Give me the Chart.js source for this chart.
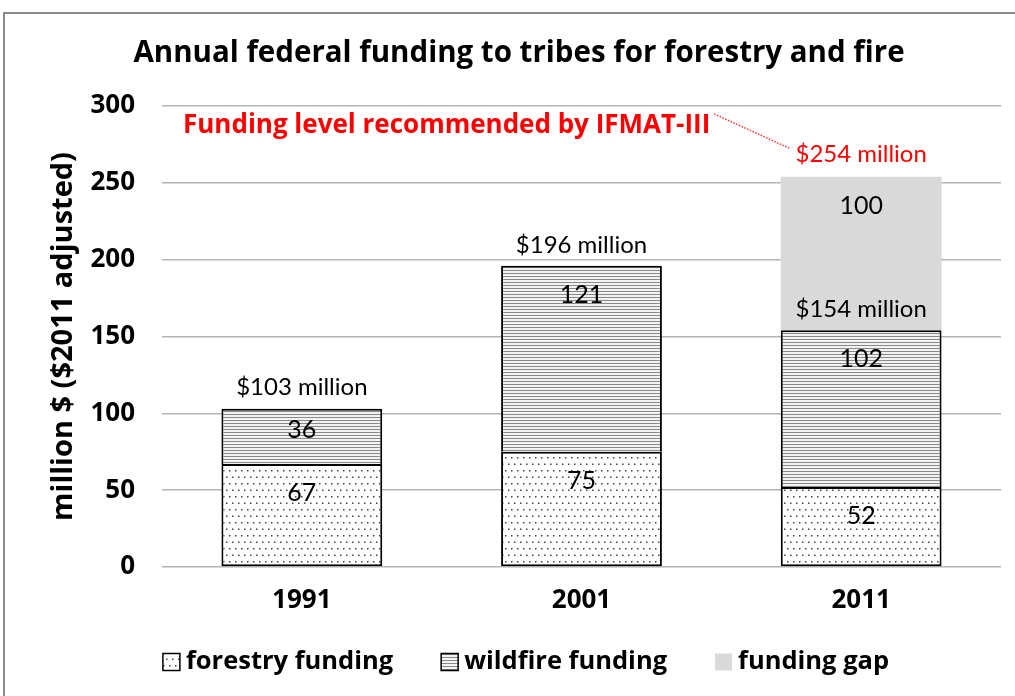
<!DOCTYPE html>
<html>
<head>
<meta charset="utf-8">
<script src="https://cdn.jsdelivr.net/npm/chart.js@4"></script>
<style>
  body { margin: 0; background: #fff; }
  canvas { display: block; }
</style>
</head>
<body>
<canvas id="fundingChart" width="1015" height="696"></canvas>
<script>
// data
const years = ["1991", "2001", "2011"];
const forestry = [67, 75, 52];
const wildfire = [36, 121, 102];
const fundingGap = [null, null, 100];
const seriesNames = ["forestry funding", "wildfire funding", "funding gap"];
const yTicks = [0, 50, 100, 150, 200, 250, 300];

const FONT = "Lato, 'Open Sans', sans-serif";
const BOLD = "'Open Sans', Lato, sans-serif";

// dotted fill for forestry
function dotPattern() {
  const c = document.createElement("canvas");
  c.width = 12; c.height = 13;
  const g = c.getContext("2d");
  g.fillStyle = "#fff";
  g.fillRect(0, 0, 12, 13);
  g.fillStyle = "#444";
  g.fillRect(1, 2, 1.5, 1.5);
  g.fillRect(7, 2, 1.5, 1.5);
  g.fillRect(4, 8.5, 1.5, 1.5);
  g.fillRect(10, 8.5, 1.5, 1.5);
  return g.createPattern(c, "repeat");
}

// horizontal stripes for wildfire
function stripePattern() {
  const c = document.createElement("canvas");
  c.width = 4; c.height = 3;
  const g = c.getContext("2d");
  g.fillStyle = "#f2f2f2";
  g.fillRect(0, 0, 4, 3);
  g.fillStyle = "#8a8a8a";
  g.fillRect(0, 0, 4, 1);
  return g.createPattern(c, "repeat");
}

const fills = [dotPattern(), stripePattern(), "#d9d9d9"];

const extras = {
  id: "extras",
  beforeDraw(chart) {
    const ctx = chart.ctx;
    ctx.save();
    ctx.fillStyle = "#fff";
    ctx.fillRect(0, 0, chart.width, chart.height);
    ctx.strokeStyle = "#8c8c8c";
    ctx.lineWidth = 2;
    ctx.strokeRect(4, 13, 1200, 900);
    // title
    ctx.fillStyle = "#000";
    ctx.font = "bold 29.5px " + BOLD;
    ctx.textAlign = "center";
    ctx.textBaseline = "middle";
    ctx.fillText("Annual federal funding to tribes for forestry and fire", 519, 54);
    ctx.restore();
  },
  afterDatasetsDraw(chart) {
    const ctx = chart.ctx;
    const area = chart.chartArea;
    ctx.save();
    ctx.textAlign = "center";
    ctx.textBaseline = "middle";

    // segment values
    chart.data.datasets.forEach((ds, i) => {
      const meta = chart.getDatasetMeta(i);
      meta.data.forEach((bar, j) => {
        const v = ds.data[j];
        if (v == null) return;
        const h = bar.base - bar.y;
        const y = bar.y + Math.min(29, h / 2 - 6);
        ctx.font = "25px " + FONT;
        ctx.fillStyle = "#000";
        ctx.fillText(String(v), bar.x, y);
      });
    });

    // totals above forestry + wildfire
    const wild = chart.getDatasetMeta(1);
    wild.data.forEach((bar, j) => {
      const total = forestry[j] + wildfire[j];
      ctx.font = "24px " + FONT;
      ctx.fillStyle = "#000";
      ctx.fillText("$" + total + " million", bar.x, bar.y - 21);
    });

    // recommended level
    const gapBar = chart.getDatasetMeta(2).data[2];
    const rec = forestry[2] + wildfire[2] + fundingGap[2];
    ctx.font = "24px " + FONT;
    ctx.fillStyle = "#ff0000";
    const recText = "$" + rec + " million";
    const recY = gapBar.y - 22;
    ctx.fillText(recText, gapBar.x, recY);
    const recW = ctx.measureText(recText).width;

    ctx.font = "bold 26px " + BOLD;
    ctx.textAlign = "left";
    const note = "Funding level recommended by IFMAT-III";
    const noteX = area.left + 21;
    const noteY = 126;
    ctx.fillText(note, noteX, noteY);
    const noteEnd = noteX + ctx.measureText(note).width;

    ctx.strokeStyle = "#ff3030";
    ctx.lineWidth = 1.5;
    ctx.setLineDash([1.5, 1.5]);
    ctx.beginPath();
    ctx.moveTo(noteEnd + 4, noteY - 12);
    ctx.lineTo(gapBar.x - recW / 2 - 5, recY - 6);
    ctx.stroke();
    ctx.setLineDash([]);
    ctx.restore();
  },
  afterDraw(chart) {
    // legend
    const ctx = chart.ctx;
    ctx.save();
    ctx.font = "bold 25.5px " + BOLD;
    ctx.textBaseline = "middle";
    ctx.textAlign = "left";
    const box = 17, gapBT = 6, gapItems = 48;
    const widths = seriesNames.map(n => box + gapBT + ctx.measureText(n).width);
    const total = widths.reduce((a, b) => a + b, 0) + gapItems * (widths.length - 1);
    let x = 526 - total / 2;
    const y = 662;
    seriesNames.forEach((n, i) => {
      ctx.fillStyle = fills[i];
      ctx.fillRect(x, y - box / 2, box, box);
      if (i < 2) {
        ctx.strokeStyle = "#000";
        ctx.lineWidth = 1.5;
        ctx.strokeRect(x, y - box / 2, box, box);
      }
      ctx.fillStyle = "#000";
      ctx.fillText(n, x + box + gapBT, y);
      x += widths[i] + gapItems;
    });
    ctx.restore();
  }
};

new Chart(document.getElementById("fundingChart"), {
  type: "bar",
  data: {
    labels: years,
    datasets: [
      { label: seriesNames[0], data: forestry, backgroundColor: fills[0], borderColor: "#000", borderWidth: 2, borderSkipped: false },
      { label: seriesNames[1], data: wildfire, backgroundColor: fills[1], borderColor: "#000", borderWidth: 2, borderSkipped: "bottom" },
      { label: seriesNames[2], data: fundingGap, backgroundColor: fills[2], borderWidth: 0 }
    ]
  },
  options: {
    responsive: false,
    animation: false,
    layout: { padding: { top: 106, right: 14, bottom: 0, left: 0 } },
    datasets: { bar: { categoryPercentage: 1, barPercentage: 0.575 } },
    plugins: {
      legend: { display: false },
      tooltip: { enabled: false }
    },
    scales: {
      x: {
        stacked: true,
        grid: { display: false, drawTicks: false },
        border: { display: false },
        ticks: { color: "#000", font: { family: BOLD, size: 26, weight: "bold" }, padding: 18 },
        afterFit(scale) { scale.height = 129; }
      },
      y: {
        stacked: true,
        min: 0,
        max: 300,
        afterBuildTicks(scale) { scale.ticks = yTicks.map(v => ({ value: v })); },
        grid: { color: "#b3b3b3", lineWidth: 1.5, drawTicks: false },
        border: { display: false },
        ticks: { color: "#000", font: { family: BOLD, size: 26, weight: "bold" }, padding: 27 },
        title: {
          display: true,
          text: "million $ ($2011 adjusted)",
          color: "#000",
          font: { family: BOLD, size: 29, weight: "bold" },
          padding: { top: 46, bottom: 0 }
        },
        afterFit(scale) { scale.width = 162; }
      }
    }
  },
  plugins: [extras]
});
</script>
</body>
</html>
